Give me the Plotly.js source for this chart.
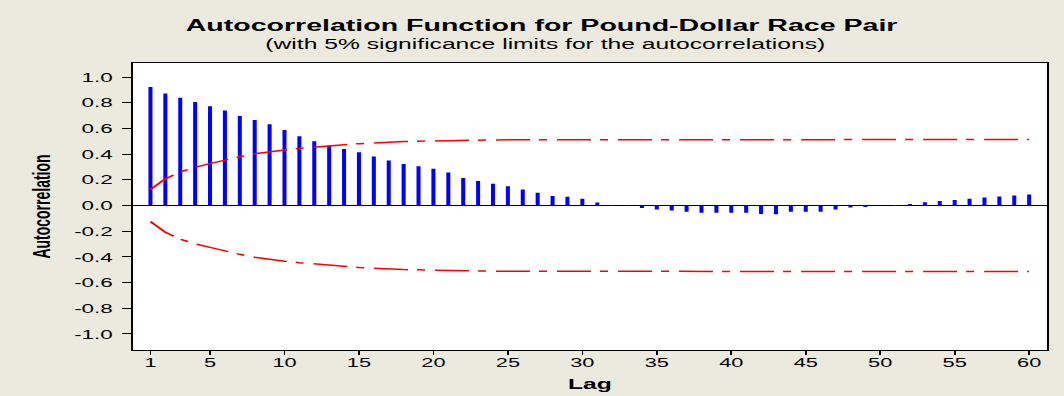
<!DOCTYPE html>
<html>
<head>
<meta charset="utf-8">
<script src="https://cdn.plot.ly/plotly-3.0.1.min.js"></script>
<style>
  html, body { margin: 0; padding: 0; overflow: hidden; background: #ECE9DF; }
  #wrap { width: 1064px; height: 396px; overflow: hidden; }
  /* The chart is laid out narrow and widened horizontally, giving the wide lettering of the figure */
  #chart { width: 626px; height: 396px; transform: scaleX(1.6997); transform-origin: 0 0; }
</style>
</head>
<body>
<div id="wrap"><div id="chart"></div></div>
<script>
// Lags of the autocorrelation function
const lags = [1, 2, 3, 4, 5, 6, 7, 8, 9, 10,
              11, 12, 13, 14, 15, 16, 17, 18, 19, 20,
              21, 22, 23, 24, 25, 26, 27, 28, 29, 30,
              31, 32, 33, 34, 35, 36, 37, 38, 39, 40,
              41, 42, 43, 44, 45, 46, 47, 48, 49, 50,
              51, 52, 53, 54, 55, 56, 57, 58, 59, 60];

// Sample autocorrelation at each lag
const acf = [0.924, 0.872, 0.839, 0.807, 0.773, 0.740, 0.698, 0.667, 0.633, 0.589,
             0.540, 0.501, 0.465, 0.441, 0.415, 0.382, 0.350, 0.324, 0.306, 0.286,
             0.257, 0.215, 0.192, 0.169, 0.150, 0.125, 0.099, 0.075, 0.068, 0.052,
             0.023, 0.002, -0.003, -0.020, -0.031, -0.039, -0.049, -0.057, -0.057, -0.057,
             -0.057, -0.065, -0.067, -0.049, -0.049, -0.049, -0.031, -0.016, -0.005, 0.000,
             0.001, 0.010, 0.026, 0.036, 0.044, 0.052, 0.062, 0.070, 0.078, 0.086];

// 5% significance limit (magnitude) at each lag
const sigLimit = [0.125, 0.208, 0.262, 0.298, 0.326, 0.356, 0.380, 0.403, 0.421, 0.433,
                  0.445, 0.456, 0.465, 0.473, 0.482, 0.489, 0.494, 0.499, 0.501, 0.504,
                  0.507, 0.509, 0.510, 0.511, 0.512, 0.512, 0.513, 0.513, 0.513, 0.513,
                  0.513, 0.513, 0.513, 0.514, 0.514, 0.514, 0.514, 0.514, 0.514, 0.514,
                  0.514, 0.514, 0.514, 0.514, 0.514, 0.514, 0.514, 0.514, 0.514, 0.514,
                  0.514, 0.514, 0.514, 0.514, 0.514, 0.514, 0.514, 0.514, 0.514, 0.514];

// Axis ticks
const xTickVals = [1, 5, 10, 15, 20, 25, 30, 35, 40, 45, 50, 55, 60];
const yTickVals = [1.0, 0.8, 0.6, 0.4, 0.2, 0.0, -0.2, -0.4, -0.6, -0.8, -1.0];
const yTickText = ['1.0', '0.8', '0.6', '0.4', '0.2', '0.0', '-0.2', '-0.4', '-0.6', '-0.8', '-1.0'];

const FONT = 'Liberation Sans, Arial, Helvetica, sans-serif';
const limitDash = '20px,5.3px,4.7px,5.9px';

const traces = [
  {
    type: 'bar',
    x: lags,
    y: acf,
    width: 0.27,
    marker: { color: '#0000FF', line: { width: 0 } },
    hoverinfo: 'x+y'
  },
  {
    type: 'scatter',
    mode: 'lines',
    x: lags,
    y: sigLimit,
    line: { color: '#FF0000', width: 1.5, dash: limitDash },
    hoverinfo: 'skip'
  },
  {
    type: 'scatter',
    mode: 'lines',
    x: lags,
    y: sigLimit.map(v => -v),
    line: { color: '#FF0000', width: 1.5, dash: limitDash },
    hoverinfo: 'skip'
  }
];

const layout = {
  width: 626,
  height: 396,
  margin: { l: 77.66, r: 10, t: 63, b: 46, pad: 0 },
  paper_bgcolor: '#ECE9DF',
  plot_bgcolor: '#FFFFFF',
  showlegend: false,
  font: { family: FONT, color: '#000000' },
  title: {
    text: '<b>Autocorrelation Function for Pound-Dollar Race Pair</b>',
    font: { family: FONT, size: 16.8, color: '#000000' },
    xref: 'container', x: 0.509, xanchor: 'center',
    yref: 'container', y: 1 - 25 / 396, yanchor: 'middle'
  },
  annotations: [
    {
      text: '(with 5% significance limits for the autocorrelations)',
      xref: 'paper', yref: 'paper',
      x: 0.4514, y: 1.0645,
      xanchor: 'center', yanchor: 'middle',
      showarrow: false,
      font: { family: FONT, size: 14.5, color: '#000000' }
    }
  ],
  xaxis: {
    range: [-0.2, 61.2],
    tickmode: 'array',
    tickvals: xTickVals,
    ticks: 'outside',
    ticklen: 4,
    tickwidth: 1,
    tickcolor: '#000000',
    ticklabelstandoff: -3,
    tickfont: { family: FONT, size: 12.8, color: '#000000' },
    showgrid: false,
    zeroline: false,
    showline: true,
    mirror: true,
    linecolor: '#000000',
    linewidth: 1,
    title: {
      text: '<b>Lag</b>',
      font: { family: FONT, size: 14.5, color: '#000000' },
      standoff: 9
    },
    fixedrange: true
  },
  yaxis: {
    range: [-1.125, 1.11],
    tickmode: 'array',
    tickvals: yTickVals,
    ticktext: yTickText,
    ticks: 'outside',
    ticklen: 5,
    tickwidth: 1,
    tickcolor: '#000000',
    ticklabelstandoff: 3,
    tickfont: { family: FONT, size: 13.2, color: '#000000' },
    showgrid: false,
    zeroline: true,
    zerolinecolor: '#000000',
    zerolinewidth: 1,
    showline: true,
    mirror: true,
    linecolor: '#000000',
    linewidth: 1,
    title: {
      text: '<b>Autocorrelation</b>',
      font: { family: FONT, size: 14, color: '#000000' },
      standoff: 10
    },
    fixedrange: true
  }
};

Plotly.newPlot('chart', traces, layout, { displayModeBar: false, responsive: false });
</script>
</body>
</html>
